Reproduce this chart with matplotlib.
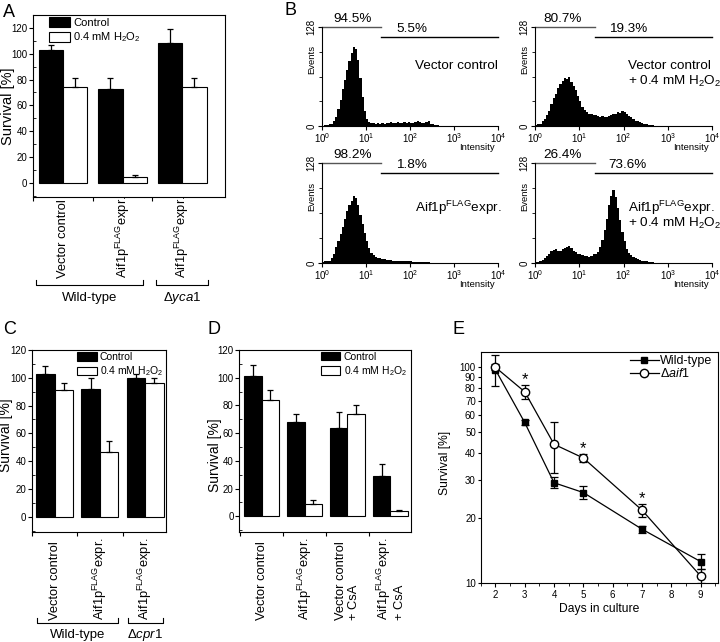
import numpy as np
import matplotlib
matplotlib.use('Agg')
import matplotlib.pyplot as plt
import matplotlib.transforms as mtransforms
from matplotlib.patches import Patch
from matplotlib.lines import Line2D
from matplotlib.ticker import MultipleLocator, NullLocator

plt.rcParams['font.family'] = ['Liberation Sans', 'DejaVu Sans']
plt.rcParams['mathtext.fontset'] = 'custom'
plt.rcParams['mathtext.rm'] = 'Liberation Sans'
plt.rcParams['mathtext.it'] = 'Liberation Sans:italic'
plt.rcParams['mathtext.bf'] = 'Liberation Sans:bold'
plt.rcParams['mathtext.sf'] = 'Liberation Sans'
plt.rcParams['mathtext.default'] = 'regular'
plt.rcParams['axes.linewidth'] = 0.8

# ---------------- data ----------------
aif = r'Aif1p$^{FLAG}$expr.'

# panel A
a_labels = ['Vector control', aif, aif]
a_ctrl = [103, 72.5, 108]
a_ctrl_err = [3.5, 8.5, 11]
a_h2o2 = [74, 4.8, 74.5]
a_h2o2_err = [7.5, 1.3, 7]

# panel C
c_labels = ['Vector control', aif, aif]
c_ctrl = [102.5, 92, 99.5]
c_ctrl_err = [6, 8, 3]
c_h2o2 = [91, 46.5, 96]
c_h2o2_err = [5, 8, 4]

# panel D
d_labels = ['Vector control', aif, 'Vector control\n+ CsA', aif + '\n+ CsA']
d_ctrl = [101, 68, 64, 29]
d_ctrl_err = [8.5, 5.5, 11, 9]
d_h2o2 = [84, 9, 73.5, 3.6]
d_h2o2_err = [7, 2.5, 7, 0.7]

# panel B: FACS histograms, events per bin, bins of 0.05 decade from 10^0
vc = [0.5, 1, 1, 2, 3, 6, 12, 22, 34, 48, 60, 72, 84, 95, 102, 99, 85, 62, 38, 20,
      9, 5, 4, 4, 3, 4, 3, 4, 3, 4, 4, 5, 4, 4, 5, 4, 4, 5, 4, 5,
      4, 4, 5, 6, 5, 4, 4, 5, 6, 3, 2, 1, 1, 0.5, 0.5, 0.3, 0.2, 0.1, 0, 0]
vc_h2o2 = [1, 2, 3, 6, 9, 14, 20, 28, 36, 42, 49, 54, 58, 62, 61, 63, 57, 52, 46, 39,
           32, 25, 21, 18, 16, 15, 14, 14, 13, 12, 13, 12, 12, 13, 14, 15, 16, 18, 17, 19,
           18, 16, 13, 11, 9, 7, 6, 5, 4, 3, 2, 1.5, 1, 0.8, 0.5, 0.4, 0.3, 0.2, 0.1, 0]
aif_ctrl = [1, 2, 2, 3, 6, 11, 20, 28, 37, 46, 56, 66, 74, 80, 86, 83, 74, 62, 50, 38,
            28, 19, 13, 10, 8, 7, 6, 5, 5, 4, 4, 3.5, 3, 3, 3, 2.5, 2.5, 2, 2, 2,
            2, 1.5, 1.5, 1.5, 1.2, 1.2, 1, 1, 0.8, 0.6, 0.5, 0.4, 0.3, 0.2, 0.2, 0.1, 0.1, 0, 0, 0]
aif_h2o2 = [1, 1.5, 2, 4, 6, 9, 12, 15, 17, 18, 16, 15, 18, 19, 21, 22, 19, 16, 14, 12,
            11, 10, 9, 9, 8, 9, 11, 12, 14, 20, 30, 42, 56, 74, 86, 93, 84, 70, 55, 40,
            28, 18, 13, 10, 8, 6, 5, 4, 3, 2.5, 2, 1.5, 1, 0.8, 0.5, 0.4, 0.3, 0.2, 0.1, 0]
pct_m1 = ['94.5%', '80.7%', '98.2%', '26.4%']
pct_m2 = ['5.5%', '19.3%', '1.8%', '73.6%']

# panel E
days = [2, 3, 4, 5, 7, 9]
wt = [97.5, 55.5, 29.2, 26.3, 17.8, 12.6]
wt_err = [16, 1.5, 1.7, 1.8, 0.7, 1.0]
daif1 = [100, 77, 44, 38, 21.8, 10.8]
daif1_err = [3, 6, 11.5, 1.7, 1.6, 0.8]
star_days = [3, 5, 7]

W, H = 720, 642
fig = plt.figure(figsize=(7.2, 6.42), dpi=100)


def rect(x0, y0, x1, y1):
    return [x0 / W, 1 - y1 / H, (x1 - x0) / W, (y1 - y0) / H]


def bar_panel(r, labels, ctrl, ctrl_err, h2o2, h2o2_err, xlim, ylim,
              leg_xy, leg_fs, leg_hh, lab_y, ylab_xy, ylab_fs):
    ax = fig.add_axes(r)
    n = len(labels)
    x = np.arange(n)
    w = 0.41
    ekw = dict(elinewidth=0.9, capthick=0.9, ecolor='black')
    ax.bar(x - w / 2, ctrl, w, color='black', edgecolor='black', lw=0.8,
           yerr=[np.zeros(n), ctrl_err], capsize=2.5, error_kw=ekw)
    ax.bar(x + w / 2, h2o2, w, color='white', edgecolor='black', lw=0.8,
           yerr=[np.zeros(n), h2o2_err], capsize=2.5, error_kw=ekw)
    ax.set_xlim(*xlim)
    ax.set_ylim(*ylim)
    ax.set_xticks(x - 0.5)
    ax.set_xticklabels([])
    ax.tick_params(axis='x', direction='out', length=3, width=0.8)
    ax.yaxis.set_major_locator(MultipleLocator(20))
    ax.yaxis.set_minor_locator(MultipleLocator(10))
    ax.tick_params(axis='y', which='major', direction='out', length=3,
                   width=0.8, labelsize=7, pad=1)
    ax.tick_params(axis='y', which='minor', direction='in', length=2, width=0.6)
    ax.set_ylabel('Survival [%]', fontsize=ylab_fs)
    ax.yaxis.set_label_coords(*ylab_xy)
    trans = mtransforms.blended_transform_factory(ax.transData, ax.transAxes)
    for i, lab in enumerate(labels):
        ax.text(i, lab_y, lab, transform=trans, rotation=90, ha='center',
                va='bottom', fontsize=9.3, multialignment='left')
    handles = [Patch(facecolor='black', edgecolor='black', lw=0.8),
               Patch(facecolor='white', edgecolor='black', lw=0.8)]
    ax.legend(handles, ['Control', '0.4 mM H$_2$O$_2$'], loc='upper left',
              bbox_to_anchor=leg_xy, frameon=False, fontsize=leg_fs,
              handlelength=1.9, handleheight=leg_hh, handletextpad=0.3,
              labelspacing=0.25, borderpad=0, borderaxespad=0)
    return ax, trans


def bracket(ax, trans, x0, x1, y, h, text, ty):
    ax.plot([x0, x0, x1, x1], [y + h, y, y, y + h], color='black', lw=0.8,
            transform=trans, clip_on=False)
    ax.text((x0 + x1) / 2, ty, text, transform=trans, ha='center',
            va='center', fontsize=9.5)


# ---------------- A ----------------
axA, tA = bar_panel(rect(33, 15, 225, 197), a_labels, a_ctrl, a_ctrl_err,
                    a_h2o2, a_h2o2_err, (-0.504, 2.72), (-11, 130),
                    (0.083, 0.989), 8, 1.0, -0.445, (-0.094, 0.5), 10.5)
bracket(axA, tA, -0.45, 1.34, -0.4835, 0.027, 'Wild-type', -0.555)
bracket(axA, tA, 1.56, 2.44, -0.4835, 0.027, r'$\Delta\mathit{yca1}$', -0.555)

# ---------------- C ----------------
axC, tC = bar_panel(rect(32, 350, 166, 532), c_labels, c_ctrl, c_ctrl_err,
                    c_h2o2, c_h2o2_err, (-0.46, 2.46), (-11, 120),
                    (0.336, 0.989), 7.5, 0.87, -0.4835, (-0.142, 0.53), 10)
bracket(axC, tC, -0.39, 1.39, -0.502, 0.031, 'Wild-type', -0.566)
bracket(axC, tC, 1.61, 2.39, -0.502, 0.031, r'$\Delta\mathit{cpr1}$', -0.566)

# ---------------- D ----------------
axD, tD = bar_panel(rect(239.3, 350, 411, 531.5), d_labels, d_ctrl, d_ctrl_err,
                    d_h2o2, d_h2o2_err, (-0.52, 3.48), (-11, 120),
                    (0.474, 0.991), 7.5, 0.87, -0.4876, (-0.10, 0.42), 10)

# ---------------- B ----------------
edges = 10 ** (np.arange(len(vc) + 1) * 0.05)
gate = 22.5
hist_specs = [
    (rect(322, 27, 498, 126), vc, 0, ['Vector control'], 1.0, 'right', [0.61]),
    (rect(535, 27, 712, 126), vc_h2o2, 1, ['Vector control', '+ 0.4 mM H$_2$O$_2$'],
     0.525, 'left', [0.61, 0.447]),
    (rect(322, 163, 498, 263), aif_ctrl, 2, [aif], 1.02, 'right', [0.547]),
    (rect(535, 163, 712, 263), aif_h2o2, 3, [aif, '+ 0.4 mM H$_2$O$_2$'],
     0.525, 'left', [0.547, 0.397]),
]
for r, counts, k, texts, tx, tha, tys in hist_specs:
    ax = fig.add_axes(r)
    ax.stairs(counts, edges, fill=True, color='black', lw=0)
    ax.set_xscale('log')
    ax.set_xlim(1, 1e4)
    ax.set_ylim(0, 128)
    ax.spines['top'].set_visible(False)
    ax.spines['right'].set_visible(False)
    ax.set_xticks([1, 10, 100, 1000, 10000])
    ax.xaxis.set_minor_locator(NullLocator())
    ax.tick_params(axis='x', direction='out', length=3, width=0.8,
                   labelsize=7, pad=1)
    ax.set_yticks([0, 128])
    ax.set_yticklabels(['0', '128'], rotation=90, va='center')
    ax.set_yticks([32, 64, 96], minor=True)
    ax.tick_params(axis='y', which='major', direction='out', length=3,
                   width=0.8, labelsize=7, pad=1)
    ax.tick_params(axis='y', which='minor', direction='out', length=2, width=0.6)
    ax.set_ylabel('Events', fontsize=6.8)
    ax.yaxis.set_label_coords(-0.03, 0.67)
    ax.text(0.88, -0.215, 'Intensity', transform=ax.transAxes, ha='center',
            va='center', fontsize=6.8)
    ax.plot([1, gate], [128, 128], color='#555555', lw=1, clip_on=False)
    ax.plot([gate, 1e4], [115, 115], color='black', lw=1, clip_on=False)
    m1x = 0.176 if k in (0, 2) else 0.153
    m2x = 0.511 if k in (0, 2) else 0.525
    ax.text(m1x, 1.08, pct_m1[k], transform=ax.transAxes, ha='center',
            va='center', fontsize=9.7)
    ax.text(m2x, 0.975, pct_m2[k], transform=ax.transAxes, ha='center',
            va='center', fontsize=9.7)
    for t, ty in zip(texts, tys):
        ax.text(tx, ty, t, transform=ax.transAxes, ha=tha, va='center',
                fontsize=9.7)

# ---------------- E ----------------
axE = fig.add_axes(rect(480.7, 351.7, 718.3, 583.3))
axE.set_yscale('log')
axE.errorbar(days, wt, yerr=wt_err, fmt='-s', color='black', mfc='black',
             mec='black', ms=5, lw=0.9, capsize=3, elinewidth=0.9, capthick=0.9)
axE.errorbar(days, daif1, yerr=daif1_err, fmt='-o', color='black', mfc='white',
             mec='black', ms=6, lw=0.9, capsize=3, elinewidth=0.9, capthick=0.9)
for d in star_days:
    i = days.index(d)
    axE.annotate('*', xy=(d, daif1[i] + daif1_err[i]), xytext=(0, 0.5),
                 textcoords='offset points', ha='center', va='baseline',
                 fontsize=12)
axE.set_xlim(1.5, 9.6)
axE.set_ylim(10, 118)
yt = [10, 20, 30, 40, 50, 60, 70, 80, 90, 100]
axE.set_yticks(yt)
axE.set_yticklabels([str(v) for v in yt])
axE.yaxis.set_minor_locator(NullLocator())
axE.tick_params(axis='y', direction='out', length=2.5, width=0.8,
                labelsize=7, pad=1)
axE.set_xticks(range(2, 10))
axE.xaxis.set_minor_locator(MultipleLocator(0.5))
axE.tick_params(axis='x', which='major', direction='out', length=3, width=0.8,
                labelsize=7, pad=2)
axE.tick_params(axis='x', which='minor', direction='out', length=2, width=0.6)
axE.set_xlabel('Days in culture', fontsize=8.7, labelpad=2)
axE.set_ylabel('Survival [%]', fontsize=8.7)
axE.yaxis.set_label_coords(-0.125, 0.52)
leg_handles = [
    Line2D([], [], color='black', lw=0.9, marker='s', mfc='black', mec='black', ms=5),
    Line2D([], [], color='black', lw=0.9, marker='o', mfc='white', mec='black', ms=6),
]
axE.legend(leg_handles, ['Wild-type', r'$\Delta\mathit{aif1}$'], loc='upper right',
           bbox_to_anchor=(0.975, 0.985), frameon=False, fontsize=9,
           handlelength=2.3, handletextpad=0.1, labelspacing=0.0,
           borderpad=0, borderaxespad=0)

# ---------------- panel letters ----------------
for letter, x, y in [('A', 3, 4), ('B', 285, 2), ('C', 3, 321), ('D', 208, 321),
                     ('E', 452, 321)]:
    fig.text(x / W, 1 - y / H, letter, fontsize=13, ha='left', va='top')

fig.savefig('out.png', dpi=100)
